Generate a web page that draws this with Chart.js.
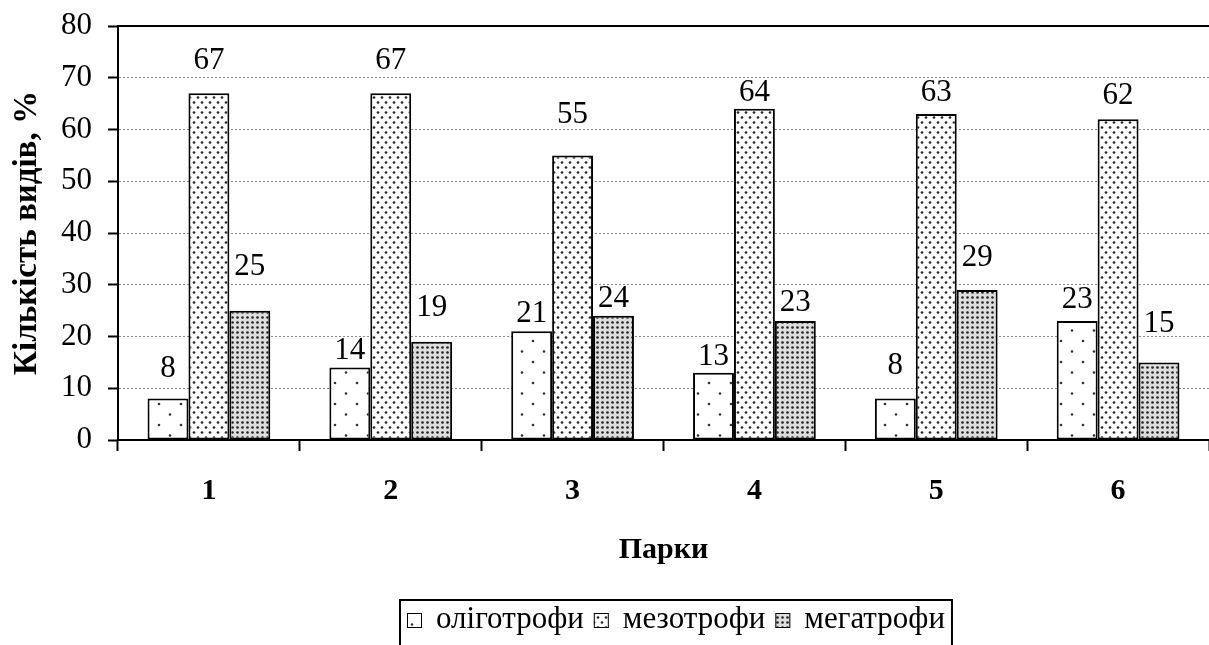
<!DOCTYPE html>
<html>
<head>
<meta charset="utf-8">
<script src="https://cdn.jsdelivr.net/npm/chart.js@4/dist/chart.umd.min.js"></script>
<style>
  html, body { margin: 0; padding: 0; background: #fff; }
  #wrap { width: 1209px; height: 645px; }
</style>
</head>
<body>
<div id="wrap"><canvas id="chart" width="1209" height="645"></canvas></div>
<script>
// Categories (parks) and series values, % of species
const parks = ['1', '2', '3', '4', '5', '6'];
const oligotrophs = [8, 14, 21, 13, 8, 23];
const mesotrophs  = [67, 67, 55, 64, 63, 62];
const megatrophs  = [25, 19, 24, 23, 29, 15];
const seriesNames = ['оліготрофи', 'мезотрофи', 'мегатрофи'];
const yTickValues = [0, 10, 20, 30, 40, 50, 60, 70, 80];

// How far (px) each value label sits above the top of its bar
const oligoLabelLift = [30, 17, 17, 16, 33, 21];
const mesoLabelLift  = [32, 32, 41, 16, 21, 23];
const megaLabelLift  = [44, 34, 17, 18, 32, 39];

const SERIF = '"Liberation Serif", "Times New Roman", serif';
Chart.defaults.font.family = SERIF;
Chart.defaults.color = '#000';

// Dotted fill patterns for the three series
function dotPattern(w, h, dots, r, dotColor, bg) {
  const c = document.createElement('canvas');
  c.width = w; c.height = h;
  const g = c.getContext('2d');
  g.fillStyle = bg;
  g.fillRect(0, 0, w, h);
  g.fillStyle = dotColor;
  dots.forEach(([x, y]) => { g.beginPath(); g.arc(x, y, r, 0, Math.PI * 2); g.fill(); });
  return g.createPattern(c, 'repeat');
}
const oligoFill = dotPattern(22, 21, [[5, 5], [16, 15.5]], 1.3, '#333', '#fff');
const mesoFill  = dotPattern(8, 10, [[2, 2.5], [6, 7.5]], 1.35, '#262626', '#fff');
const megaFill  = dotPattern(5, 5, [[2.5, 2.5]], 1.3, '#222', '#dedede');

// Value labels above the bars
const valueLabels = {
  id: 'valueLabels',
  afterDatasetsDraw(chart) {
    const ctx = chart.ctx;
    ctx.save();
    ctx.font = '31px ' + SERIF;
    ctx.fillStyle = '#000';
    ctx.textAlign = 'center';
    ctx.textBaseline = 'middle';
    chart.data.datasets.forEach((ds, i) => {
      const meta = chart.getDatasetMeta(i);
      meta.data.forEach((bar, j) => {
        ctx.fillText(String(ds.data[j]), bar.x, bar.y - ds.labelLift[j]);
      });
    });
    ctx.restore();
  }
};

// Solid frame line along the top of the plot area
const topLine = {
  id: 'topLine',
  beforeDatasetsDraw(chart) {
    const { ctx, chartArea } = chart;
    ctx.save();
    ctx.strokeStyle = '#000';
    ctx.lineWidth = 2;
    ctx.beginPath();
    ctx.moveTo(chartArea.left, chartArea.top);
    ctx.lineTo(chartArea.right, chartArea.top);
    ctx.stroke();
    ctx.restore();
  }
};

// Legend in a framed box below the axis title
const boxedLegend = {
  id: 'boxedLegend',
  afterDraw(chart, args, opts) {
    const ctx = chart.ctx;
    const sets = chart.data.datasets;
    ctx.save();
    ctx.font = opts.fontSize + 'px ' + SERIF;
    ctx.textBaseline = 'alphabetic';
    ctx.textAlign = 'left';
    const widths = sets.map(ds => ctx.measureText(ds.label).width);
    const total = opts.padX * 2 + sets.length * (opts.box + opts.gap)
      + widths.reduce((a, b) => a + b, 0) + opts.itemGap * (sets.length - 1);
    const left = Math.round(opts.centerX - total / 2);
    let x = left + opts.padX;
    const base = opts.baseline;
    sets.forEach((ds, i) => {
      const s = opts.box;
      const top = base - s;
      ctx.fillStyle = ds.backgroundColor;
      ctx.fillRect(x, top, s, s);
      ctx.strokeStyle = '#000';
      ctx.lineWidth = 1;
      ctx.strokeRect(x + 0.5, top + 0.5, s - 1, s - 1);
      x += s + opts.gap;
      ctx.fillStyle = '#000';
      ctx.fillText(ds.label, x, base);
      x += widths[i];
      if (i < sets.length - 1) x += opts.itemGap;
    });
    ctx.strokeStyle = '#000';
    ctx.lineWidth = 2;
    ctx.strokeRect(left, opts.top, total, 200);
    ctx.restore();
  }
};

const common = { borderColor: '#000', borderWidth: 2, borderSkipped: false, barPercentage: 1, categoryPercentage: 0.675 };

new Chart(document.getElementById('chart'), {
  type: 'bar',
  data: {
    labels: parks,
    datasets: [
      { label: seriesNames[0], data: oligotrophs, backgroundColor: oligoFill, labelLift: oligoLabelLift, ...common },
      { label: seriesNames[1], data: mesotrophs,  backgroundColor: mesoFill,  labelLift: mesoLabelLift,  ...common },
      { label: seriesNames[2], data: megatrophs,  backgroundColor: megaFill,  labelLift: megaLabelLift,  ...common }
    ]
  },
  options: {
    responsive: false,
    animation: false,
    layout: { padding: { top: 26, right: 0, bottom: 77, left: 0 } },
    plugins: {
      legend: { display: false },
      tooltip: { enabled: false },
      boxedLegend: { centerX: 676, top: 600, baseline: 628, padX: 7, box: 15, gap: 14, itemGap: 10, fontSize: 31 }
    },
    scales: {
      x: {
        offset: true,
        grid: { offset: true, drawOnChartArea: false, drawTicks: true, tickLength: 11, tickColor: '#000', tickWidth: 2 },
        border: { color: '#000', width: 2 },
        ticks: { font: { size: 30, weight: 'bold' }, color: '#000', padding: 22 },
        title: { display: true, text: 'Парки', font: { size: 30, weight: 'bold' }, color: '#000', padding: 0 },
        afterFit(scale) { scale.height = 128; scale.paddingLeft = 0; scale.paddingRight = 0; }
      },
      y: {
        min: 0, max: 80,
        afterBuildTicks(scale) { scale.ticks = yTickValues.map(v => ({ value: v })); },
        grid: {
          color: (c) => (c.tick && c.tick.value === 80 ? 'rgba(0,0,0,0)' : '#8a8a8a'),
          lineWidth: 1,
          tickColor: '#000', tickWidth: 2, tickLength: 10, tickBorderDash: []
        },
        border: { color: '#000', width: 2, dash: [2, 2] },
        ticks: { font: { size: 31 }, color: '#000', padding: 16 },
        title: { display: true, text: 'Кількість видів, %', font: { size: 33, weight: 'bold' }, color: '#000', padding: { top: 8, bottom: 0 } },
        afterFit(scale) { scale.width = 118; scale.paddingTop = 0; scale.paddingBottom = 0; }
      }
    }
  },
  plugins: [topLine, valueLabels, boxedLegend]
});
</script>
</body>
</html>
